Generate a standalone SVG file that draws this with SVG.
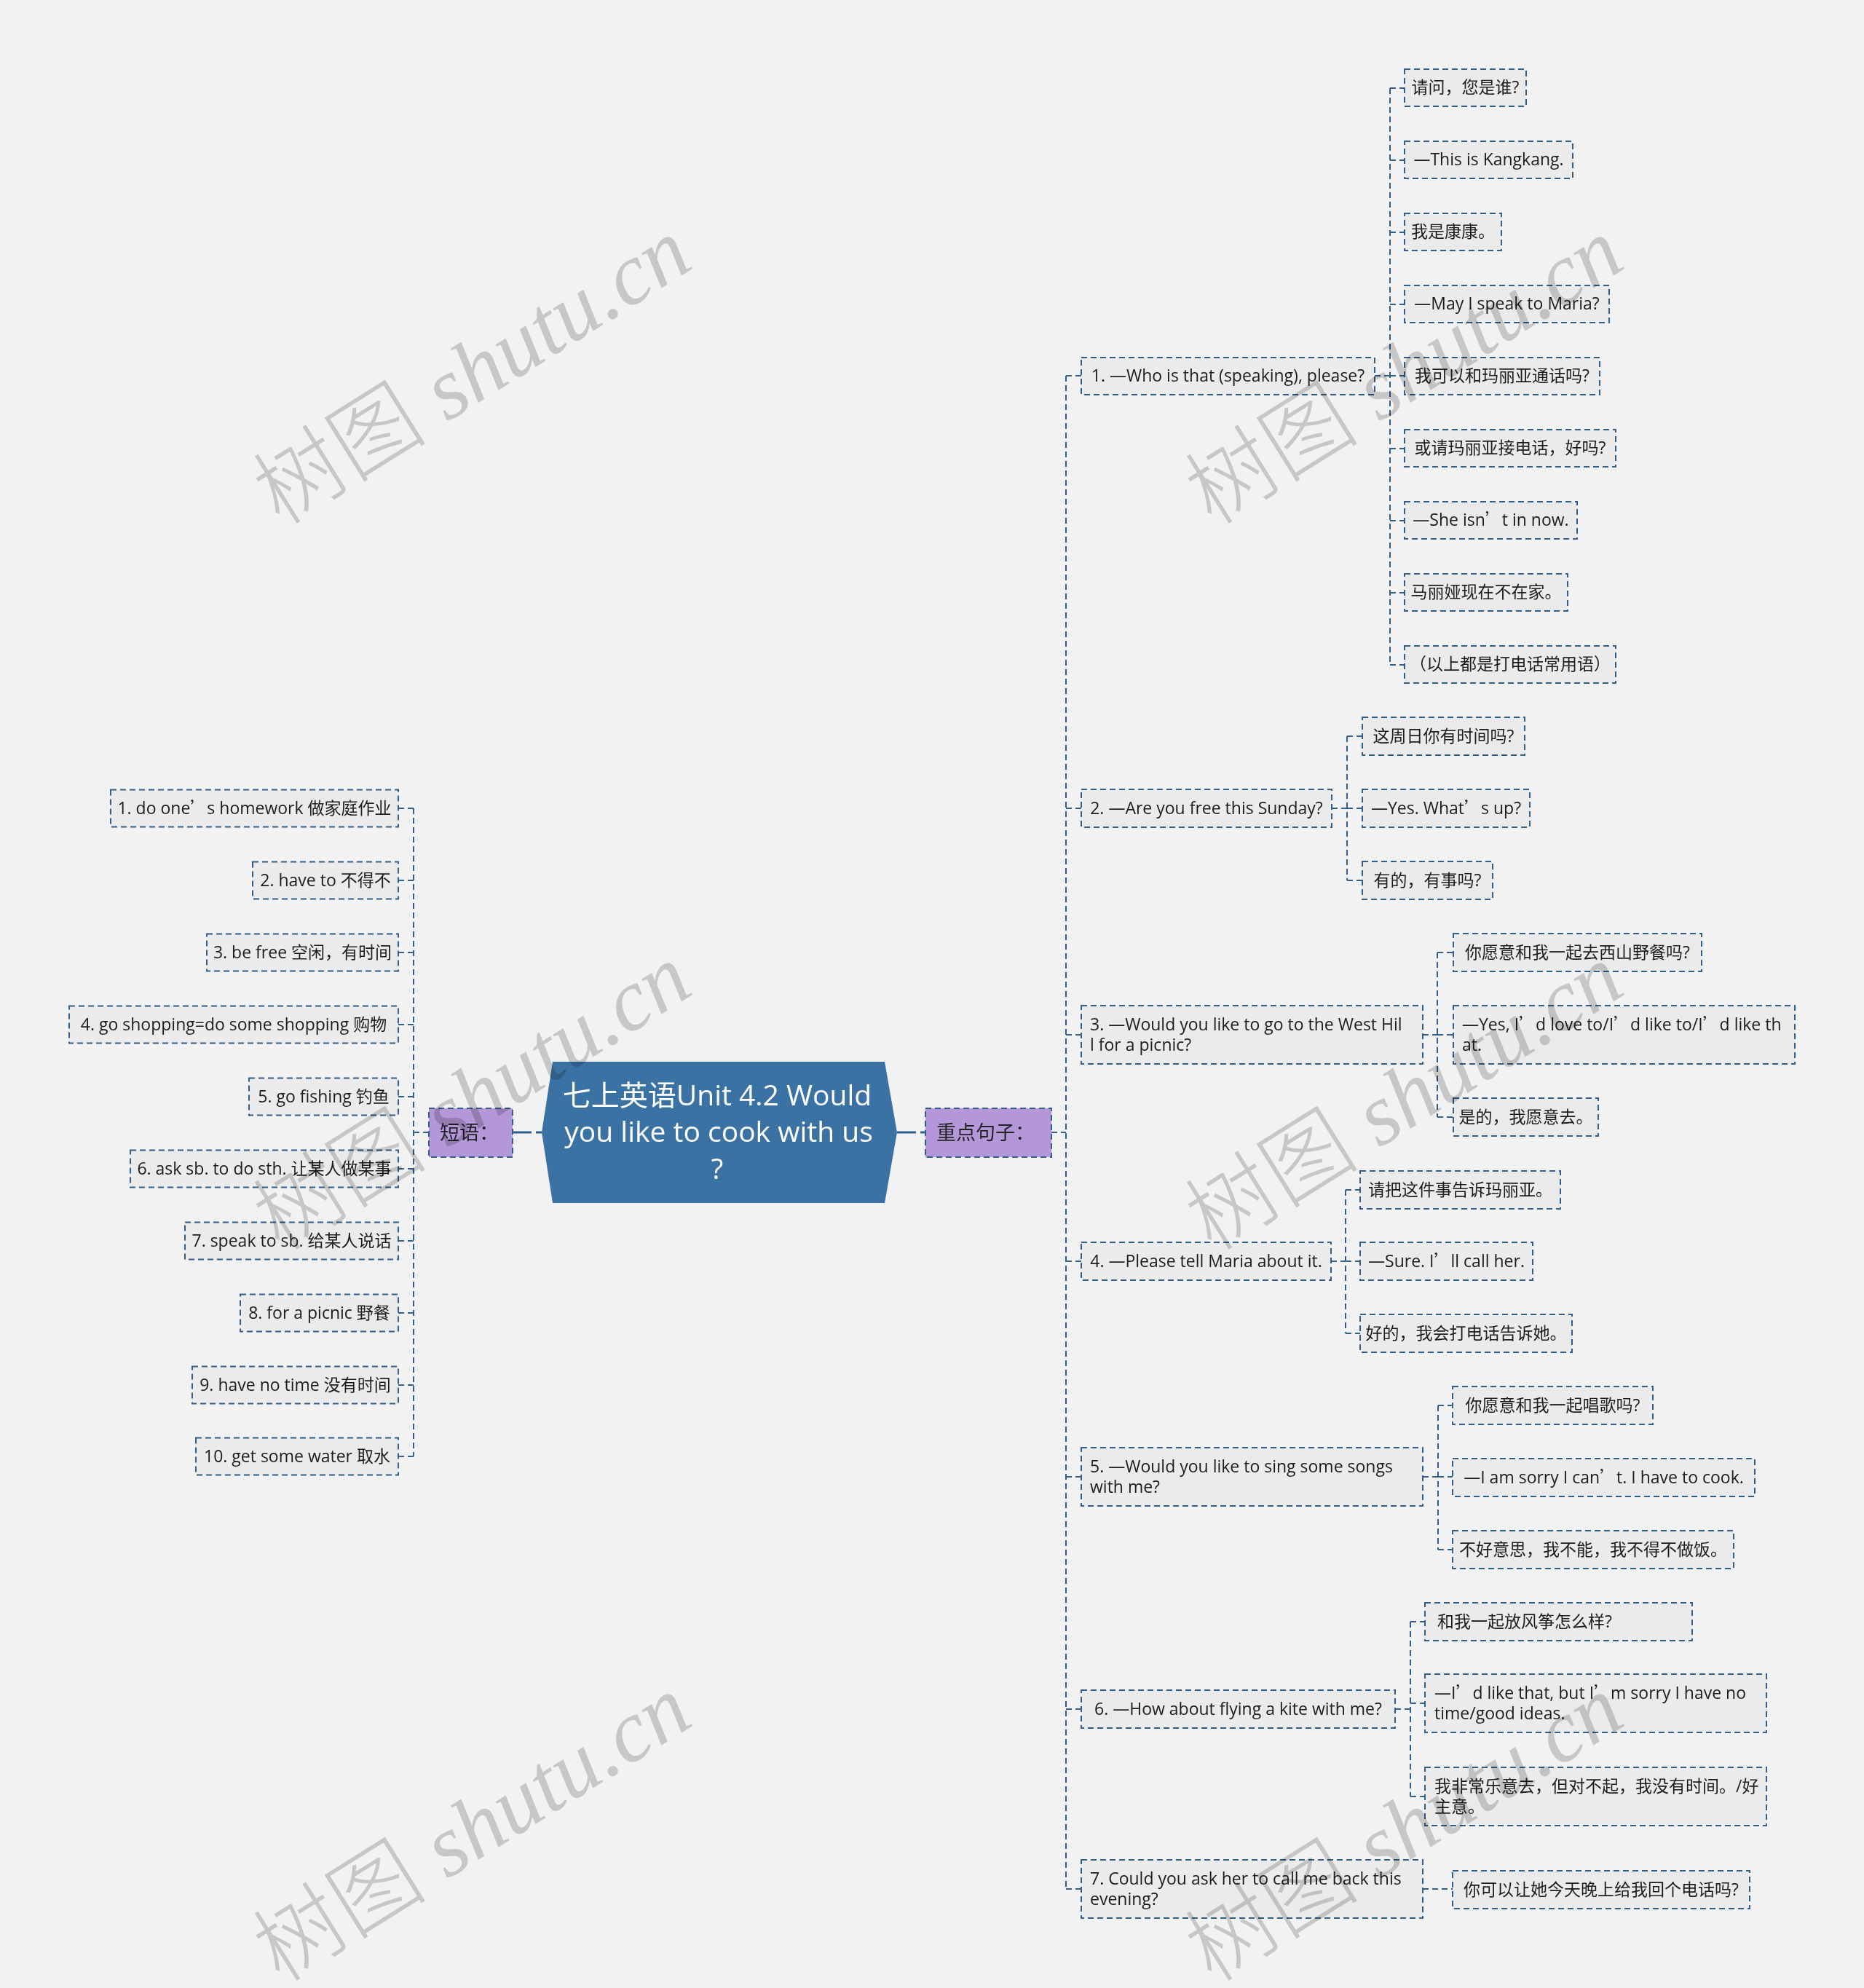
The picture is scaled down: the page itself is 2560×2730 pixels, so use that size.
<svg xmlns="http://www.w3.org/2000/svg" width="2560" height="2730" viewBox="0 0 2560 2730">
<style>
.box{fill:#EBEBEB;stroke:#2F5F8A;stroke-width:2;stroke-dasharray:8 5}
.t{font-family:"Open Sans","Noto Sans CJK SC",sans-serif;font-size:23px;fill:#1C1C1C}
.c{text-anchor:middle}
.q{font-family:"Noto Sans CJK SC",sans-serif}
.conn{fill:none;stroke:#2F5F8A;stroke-width:2;stroke-dasharray:8 5}
.thick{fill:none;stroke:#2F5F8A;stroke-width:3;stroke-dasharray:26 6}
.cat{fill:#B497D9;stroke:#2F5F8A;stroke-width:2;stroke-dasharray:8 5}
.ct{font-family:"Noto Sans CJK SC",sans-serif;font-size:27px;fill:#222}
.root{fill:#3B72A4}
.rt{font-family:"Open Sans","Noto Sans CJK SC",sans-serif;font-size:39px;fill:#FFFFFF;text-anchor:middle}
.wm{font-size:120px;fill:#D2D2D2;mix-blend-mode:multiply;text-anchor:middle}
.wc{font-family:"Noto Sans CJK SC",sans-serif;font-weight:300}
.wl{font-family:"Liberation Serif",serif;font-style:italic}
</style>
<rect x="0" y="0" width="2560" height="2730" fill="#F2F2F2"/>

<g id="connectors">
<path class="thick" d="M704,1555 H744 M1232,1555 H1271"/>
<path class="conn" d="M589,1555 H568 M568,1110 V2000 M568,1110 H547 M568,1209 H547 M568,1308 H547 M568,1407 H547 M568,1506 H547 M568,1605 H547 M568,1704 H547 M568,1803 H547 M568,1902 H547 M568,2000 H547"/>
<path class="conn" d="M1444,1555 H1464 M1464,516 V2594 M1464,516 H1485 M1464,1110 H1485 M1464,1421 H1485 M1464,1732 H1485 M1464,2028 H1485 M1464,2347 H1485 M1464,2594 H1485"/>
<path class="conn" d="M1888,516 H1909 M1909,121 V913 M1909,121 H1929 M1909,220 H1929 M1909,319 H1929 M1909,418 H1929 M1909,516 H1929 M1909,616 H1929 M1909,715 H1929 M1909,814 H1929 M1909,913 H1929"/>
<path class="conn" d="M1829,1110 H1850 M1850,1011 V1209 M1850,1011 H1871 M1850,1110 H1871 M1850,1209 H1871"/>
<path class="conn" d="M1954,1421 H1974 M1974,1308 V1534 M1974,1308 H1996 M1974,1421 H1996 M1974,1534 H1996"/>
<path class="conn" d="M1828,1732 H1848 M1848,1634 V1831 M1848,1634 H1868 M1848,1732 H1868 M1848,1831 H1868"/>
<path class="conn" d="M1954,2028 H1975 M1975,1930 V2128 M1975,1930 H1995 M1975,2028 H1995 M1975,2128 H1995"/>
<path class="conn" d="M1916,2347 H1937 M1937,2227 V2467 M1937,2227 H1957 M1937,2339 H1957 M1937,2467 H1957"/>
<path class="conn" d="M1954,2594 H1995"/>
</g>

<g id="root">
<polygon class="root" points="759,1458 1215,1458 1232,1555 1215,1652 759,1652 744,1555"/>
<text class="rt" x="985" y="1518">七上英语Unit 4.2 Would</text>
<text class="rt" x="987" y="1568">you like to cook with us</text>
<text class="rt" x="985" y="1619">?</text>
</g>

<g id="cat-left">
<rect class="cat" x="589" y="1522" width="115" height="67"/>
<text class="ct" x="604" y="1565">短语：</text>
</g>
<g id="cat-right">
<rect class="cat" x="1271" y="1522" width="173" height="67"/>
<text class="ct" x="1286" y="1565">重点句子：</text>
</g>

<g id="p1"><rect class="box" x="152" y="1084.5" width="395" height="51"/><text class="t c" x="349.5" y="1118">1. do one<tspan class="q">’</tspan>s homework 做家庭作业</text></g>
<g id="p2"><rect class="box" x="347" y="1183.5" width="200" height="51"/><text class="t c" x="447" y="1217">2. have to 不得不</text></g>
<g id="p3"><rect class="box" x="284" y="1282.5" width="263" height="51"/><text class="t c" x="415.5" y="1316">3. be free 空闲，有时间</text></g>
<g id="p4"><rect class="box" x="95" y="1381.5" width="452" height="51"/><text class="t c" x="321" y="1415">4. go shopping=do some shopping 购物</text></g>
<g id="p5"><rect class="box" x="342" y="1480.5" width="205" height="51"/><text class="t c" x="444.5" y="1514">5. go fishing 钓鱼</text></g>
<g id="p6"><rect class="box" x="179" y="1579.5" width="368" height="51"/><text class="t c" x="363" y="1613">6. ask sb. to do sth. 让某人做某事</text></g>
<g id="p7"><rect class="box" x="254" y="1678.5" width="293" height="51"/><text class="t c" x="400.5" y="1712">7. speak to sb. 给某人说话</text></g>
<g id="p8"><rect class="box" x="330" y="1777.5" width="217" height="51"/><text class="t c" x="438.5" y="1811">8. for a picnic 野餐</text></g>
<g id="p9"><rect class="box" x="264" y="1876.5" width="283" height="51"/><text class="t c" x="405.5" y="1910">9. have no time 没有时间</text></g>
<g id="p10"><rect class="box" x="269" y="1974.5" width="278" height="51"/><text class="t c" x="408" y="2008">10. get some water 取水</text></g>

<g id="s1"><rect class="box" x="1485" y="491" width="403" height="51"/><text class="t c" x="1686.5" y="524">1. —Who is that (speaking), please?</text></g>
<g id="s1a"><rect class="box" x="1929" y="95" width="167" height="51"/><text class="t c" x="2012.5" y="128">请问，您是谁?</text></g>
<g id="s1b"><rect class="box" x="1929" y="194" width="231" height="51"/><text class="t c" x="2044.5" y="227">—This is Kangkang.</text></g>
<g id="s1c"><rect class="box" x="1929" y="293" width="133" height="51"/><text class="t c" x="1995.5" y="326">我是康康。</text></g>
<g id="s1d"><rect class="box" x="1929" y="392" width="281" height="51"/><text class="t c" x="2069.5" y="425">—May I speak to Maria?</text></g>
<g id="s1e"><rect class="box" x="1929" y="491" width="268" height="51"/><text class="t c" x="2063" y="524">我可以和玛丽亚通话吗?</text></g>
<g id="s1f"><rect class="box" x="1929" y="590" width="290" height="51"/><text class="t c" x="2074" y="623">或请玛丽亚接电话，好吗?</text></g>
<g id="s1g"><rect class="box" x="1929" y="689" width="237" height="51"/><text class="t c" x="2047.5" y="722">—She isn<tspan class="q">’</tspan>t in now.</text></g>
<g id="s1h"><rect class="box" x="1929" y="788" width="224" height="51"/><text class="t c" x="2041" y="821">马丽娅现在不在家。</text></g>
<g id="s1i"><rect class="box" x="1929" y="887" width="290" height="51"/><text class="t c" x="2074" y="920">（以上都是打电话常用语）</text></g>

<g id="s2"><rect class="box" x="1485" y="1084" width="344" height="52"/><text class="t c" x="1657" y="1118">2. —Are you free this Sunday?</text></g>
<g id="s2a"><rect class="box" x="1871" y="985" width="223" height="52"/><text class="t c" x="1982.5" y="1019">这周日你有时间吗?</text></g>
<g id="s2b"><rect class="box" x="1871" y="1084" width="230" height="52"/><text class="t c" x="1986" y="1118">—Yes. What<tspan class="q">’</tspan>s up?</text></g>
<g id="s2c"><rect class="box" x="1871" y="1183" width="179" height="52"/><text class="t c" x="1960.5" y="1217">有的，有事吗?</text></g>

<g id="s3"><rect class="box" x="1485" y="1381" width="469" height="80"/><text class="t" x="1497" y="1415">3. —Would you like to go to the West Hil<tspan x="1497" y="1443">l for a picnic?</tspan></text></g>
<g id="s3a"><rect class="box" x="1996" y="1282" width="341" height="52"/><text class="t c" x="2166.5" y="1316">你愿意和我一起去西山野餐吗?</text></g>
<g id="s3b"><rect class="box" x="1996" y="1381" width="469" height="80"/><text class="t" x="2008" y="1415">—Yes, I<tspan class="q">’</tspan>d love to/I<tspan class="q">’</tspan>d like to/I<tspan class="q">’</tspan>d like th<tspan x="2008" y="1443">at.</tspan></text></g>
<g id="s3c"><rect class="box" x="1996" y="1508" width="199" height="52"/><text class="t c" x="2095.5" y="1542">是的，我愿意去。</text></g>

<g id="s4"><rect class="box" x="1485" y="1706" width="343" height="52"/><text class="t c" x="1656.5" y="1740">4. —Please tell Maria about it.</text></g>
<g id="s4a"><rect class="box" x="1868" y="1608" width="275" height="52"/><text class="t c" x="2005.5" y="1642">请把这件事告诉玛丽亚。</text></g>
<g id="s4b"><rect class="box" x="1868" y="1706" width="237" height="52"/><text class="t c" x="1986.5" y="1740">—Sure. I<tspan class="q">’</tspan>ll call her.</text></g>
<g id="s4c"><rect class="box" x="1868" y="1805" width="291" height="52"/><text class="t c" x="2013.5" y="1839">好的，我会打电话告诉她。</text></g>

<g id="s5"><rect class="box" x="1485" y="1988" width="469" height="80"/><text class="t" x="1497" y="2022">5. —Would you like to sing some songs<tspan x="1497" y="2050">with me?</tspan></text></g>
<g id="s5a"><rect class="box" x="1995" y="1904" width="275" height="52"/><text class="t c" x="2132.5" y="1938">你愿意和我一起唱歌吗?</text></g>
<g id="s5b"><rect class="box" x="1995" y="2003" width="415" height="52"/><text class="t c" x="2202.5" y="2037">—I am sorry I can<tspan class="q">’</tspan>t. I have to cook.</text></g>
<g id="s5c"><rect class="box" x="1995" y="2102" width="386" height="52"/><text class="t c" x="2188" y="2136">不好意思，我不能，我不得不做饭。</text></g>

<g id="s6"><rect class="box" x="1485" y="2321" width="431" height="52"/><text class="t c" x="1700.5" y="2355">6. —How about flying a kite with me?</text></g>
<g id="s6a"><rect class="box" x="1957" y="2201" width="367" height="52"/><text class="t" x="1974" y="2235">和我一起放风筝怎么样?</text></g>
<g id="s6b"><rect class="box" x="1957" y="2299" width="469" height="80"/><text class="t" x="1970" y="2333">—I<tspan class="q">’</tspan>d like that, but I<tspan class="q">’</tspan>m sorry I have no<tspan x="1970" y="2361">time/good ideas.</tspan></text></g>
<g id="s6c"><rect class="box" x="1957" y="2427" width="469" height="80"/><text class="t" x="1970" y="2461">我非常乐意去，但对不起，我没有时间。/好<tspan x="1970" y="2489">主意。</tspan></text></g>

<g id="s7"><rect class="box" x="1485" y="2554" width="469" height="80"/><text class="t" x="1497" y="2588">7. Could you ask her to call me back this<tspan x="1497" y="2616">evening?</tspan></text></g>
<g id="s7a"><rect class="box" x="1995" y="2569" width="408" height="52"/><text class="t c" x="2199" y="2603">你可以让她今天晚上给我回个电话吗?</text></g>

<g id="watermarks">
<text class="wm" x="648" y="551" transform="rotate(-32 648 509)"><tspan class="wc">树图</tspan><tspan class="wl"> shutu.cn</tspan></text>
<text class="wm" x="1928" y="551" transform="rotate(-32 1928 509)"><tspan class="wc">树图</tspan><tspan class="wl"> shutu.cn</tspan></text>
<text class="wm" x="648" y="1548" transform="rotate(-32 648 1506)"><tspan class="wc">树图</tspan><tspan class="wl"> shutu.cn</tspan></text>
<text class="wm" x="1928" y="1548" transform="rotate(-32 1928 1506)"><tspan class="wc">树图</tspan><tspan class="wl"> shutu.cn</tspan></text>
<text class="wm" x="648" y="2552" transform="rotate(-32 648 2510)"><tspan class="wc">树图</tspan><tspan class="wl"> shutu.cn</tspan></text>
<text class="wm" x="1928" y="2552" transform="rotate(-32 1928 2510)"><tspan class="wc">树图</tspan><tspan class="wl"> shutu.cn</tspan></text>
</g>
</svg>
